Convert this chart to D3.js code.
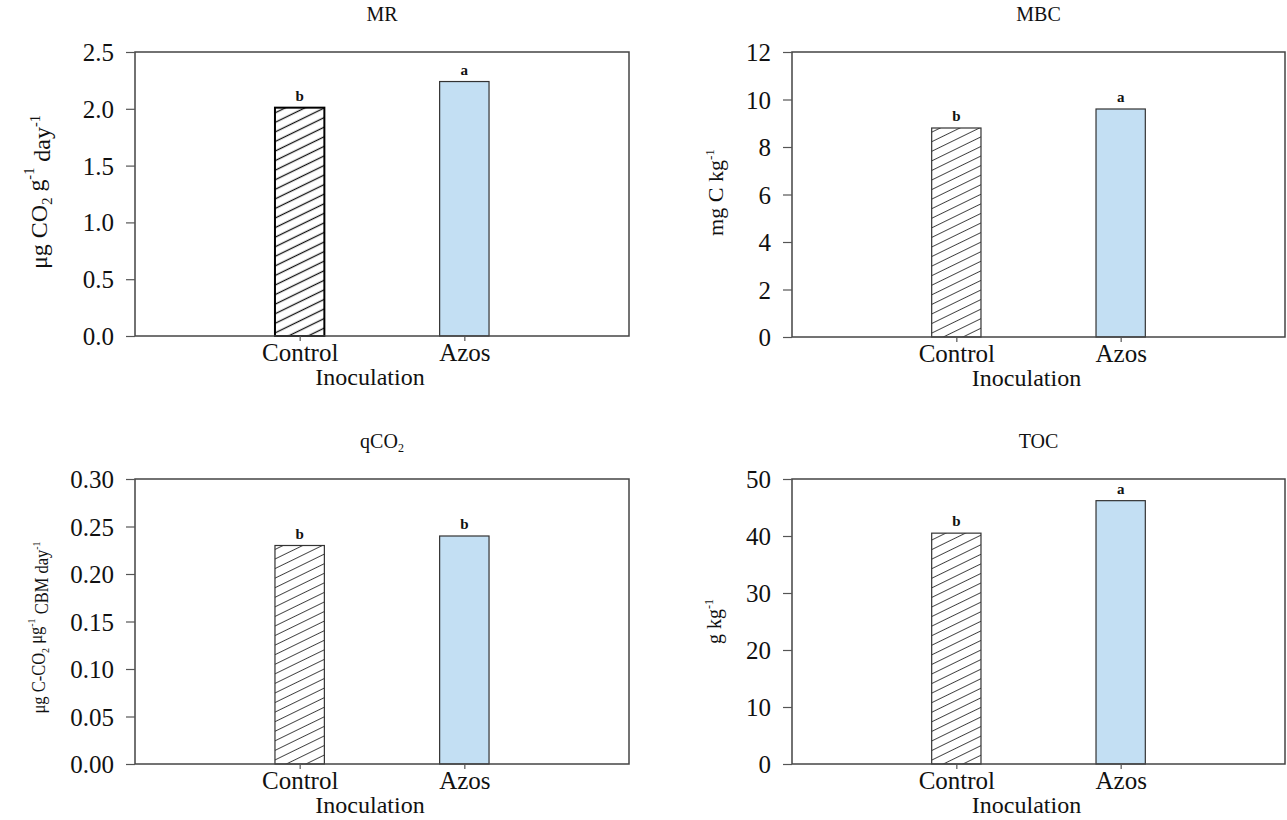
<!DOCTYPE html>
<html>
<head>
<meta charset="utf-8">
<script src="https://cdn.jsdelivr.net/npm/d3@7"></script>
<style>
  body { margin: 0; background: #fff; }
</style>
</head>
<body>
<div id="chart"></div>
<script>
// data
var categories = ["Control", "Azos"];

var mrValues = [2.01, 2.24];
var mrLetters = ["b", "a"];
var mrTicks = [0, 0.5, 1.0, 1.5, 2.0, 2.5];

var mbcValues = [8.8, 9.6];
var mbcLetters = ["b", "a"];
var mbcTicks = [0, 2, 4, 6, 8, 10, 12];

var qco2Values = [0.23, 0.24];
var qco2Letters = ["b", "b"];
var qco2Ticks = [0, 0.05, 0.10, 0.15, 0.20, 0.25, 0.30];

var tocValues = [40.5, 46.2];
var tocLetters = ["b", "a"];
var tocTicks = [0, 10, 20, 30, 40, 50];

var serif = '"Liberation Serif", "Times New Roman", Times, serif';

var svg = d3.select('#chart').append('svg')
    .attr('width', 1287)
    .attr('height', 820)
    .style('font-family', serif);

// hatch patterns (dark one for MR, lighter for the others)
var defs = svg.append('defs');
function hatch(id, color, sw) {
    var p = defs.append('pattern')
        .attr('id', id)
        .attr('patternUnits', 'userSpaceOnUse')
        .attr('width', 12)
        .attr('height', 8.6)
        .attr('patternTransform', 'rotate(-26)');
    p.append('rect').attr('width', 12).attr('height', 8.6).attr('fill', '#fff');
    p.append('line')
        .attr('x1', -1).attr('x2', 13)
        .attr('y1', 4.3).attr('y2', 4.3)
        .attr('stroke', color).attr('stroke-width', sw);
}
hatch('hatchDark', '#111', 1.3);
hatch('hatchLight', '#333', 0.9);

var panels = [
    {title: 'MR', values: mrValues, letters: mrLetters, ticks: mrTicks, fmt: d3.format('.1f'),
     l: 135, t: 52, w: 494, h: 284, hatch: 'hatchDark', ctrlStroke: '#000', ctrlSw: 2, labX: 40, yLabel: 'mr'},
    {title: 'MBC', values: mbcValues, letters: mbcLetters, ticks: mbcTicks, fmt: d3.format('d'),
     l: 792, t: 52, w: 493, h: 285, hatch: 'hatchLight', ctrlStroke: '#333', ctrlSw: 1.2, labX: 716, yLabel: 'mbc'},
    {title: 'qCO2', values: qco2Values, letters: qco2Letters, ticks: qco2Ticks, fmt: d3.format('.2f'),
     l: 135, t: 479, w: 494, h: 285, hatch: 'hatchLight', ctrlStroke: '#333', ctrlSw: 1.2, labX: 40, yLabel: 'qco2'},
    {title: 'TOC', values: tocValues, letters: tocLetters, ticks: tocTicks, fmt: d3.format('d'),
     l: 792, t: 479, w: 493, h: 285, hatch: 'hatchLight', ctrlStroke: '#333', ctrlSw: 1.2, labX: 716, yLabel: 'toc'}
];

panels.forEach(function(p) {
    var g = svg.append('g').attr('transform', 'translate(' + p.l + ',' + p.t + ')');

    var x = d3.scalePoint().domain(categories).range([0, p.w]).padding(1);
    var y = d3.scaleLinear().domain([p.ticks[0], p.ticks[p.ticks.length - 1]]).range([p.h, 0]);
    var barW = p.w * 0.1;

    // bars
    g.selectAll('.bar')
        .data(p.values)
        .enter()
        .append('rect')
        .attr('class', 'bar')
        .attr('x', function(d, i) { return x(categories[i]) - barW / 2; })
        .attr('y', function(d) { return y(d); })
        .attr('width', barW)
        .attr('height', function(d) { return p.h - y(d); })
        .attr('fill', function(d, i) { return i === 0 ? 'url(#' + p.hatch + ')' : '#c3dff3'; })
        .attr('stroke', function(d, i) { return i === 0 ? p.ctrlStroke : '#333'; })
        .attr('stroke-width', function(d, i) { return i === 0 ? p.ctrlSw : 1.2; });

    // significance letters
    g.selectAll('.letter')
        .data(p.values)
        .enter()
        .append('text')
        .attr('class', 'letter')
        .attr('x', function(d, i) { return x(categories[i]); })
        .attr('y', function(d) { return y(d) - 7; })
        .attr('text-anchor', 'middle')
        .style('font-family', serif)
        .style('font-size', '15px')
        .style('font-weight', 'bold')
        .attr('fill', '#111')
        .text(function(d, i) { return p.letters[i]; });

    // frame
    g.append('rect')
        .attr('width', p.w).attr('height', p.h)
        .attr('fill', 'none')
        .attr('stroke', '#444')
        .attr('stroke-width', 1.5);

    // axes
    var axisY = d3.axisLeft(y).tickValues(p.ticks).tickFormat(p.fmt).tickSize(9).tickSizeOuter(0).tickPadding(12);
    var axisX = d3.axisBottom(x).tickSize(5).tickSizeOuter(0).tickPadding(2);

    var ay = g.append('g').attr('class', 'axis').call(axisY).attr('font-family', serif);
    ay.select('.domain').remove();
    ay.selectAll('line').attr('stroke', '#555').attr('stroke-width', 1.2);
    ay.selectAll('text').style('font-family', serif).style('font-size', '25px').attr('fill', '#111').attr('dy', '0.34em');

    var ax = g.append('g').attr('class', 'axis').attr('transform', 'translate(0,' + p.h + ')').call(axisX).attr('font-family', serif);
    ax.select('.domain').remove();
    ax.selectAll('line').attr('stroke', '#555').attr('stroke-width', 1.2);
    ax.selectAll('text').style('font-family', serif).style('font-size', '25px').attr('fill', '#111').attr('dy', '0.72em');

    g.append('text')
        .attr('x', p.w / 2 - 12)
        .attr('y', p.h + 49)
        .attr('text-anchor', 'middle')
        .style('font-family', serif)
        .style('font-size', '24px')
        .attr('fill', '#111')
        .text('Inoculation');

    // title
    var title = g.append('text')
        .attr('x', p.w / 2)
        .attr('y', -31)
        .attr('text-anchor', 'middle')
        .style('font-family', serif)
        .style('font-size', '20px')
        .attr('fill', '#111');
    if (p.title === 'qCO2') {
        title.append('tspan').text('qCO');
        title.append('tspan').attr('font-size', '12px').attr('dy', 4).text('2');
    } else {
        title.text(p.title);
    }

    // y label
    var cy = p.t + p.h / 2;
    var lab = svg.append('text')
        .attr('text-anchor', 'middle')
        .style('font-family', serif)
        .attr('fill', '#111');
    function sup(sel, txt) { sel.append('tspan').attr('font-size', '0.6em').attr('dy', '-0.7em').text(txt); }
    function sub(sel, txt) { sel.append('tspan').attr('font-size', '0.6em').attr('dy', '0.35em').text(txt); }
    function base(sel, txt, dy) { sel.append('tspan').attr('dy', dy || 0).text(txt); }
    if (p.yLabel === 'mr') {
        lab.style('font-size', '24px');
        base(lab, 'μg CO');
        sub(lab, '2');
        base(lab, ' g', '-0.35em');
        sup(lab, '-1');
        base(lab, ' day', '0.7em');
        sup(lab, '-1');
        lab.attr('transform', 'translate(' + (p.labX + 7) + ',' + (cy - 2) + ') rotate(-90)');
    } else if (p.yLabel === 'mbc') {
        lab.style('font-size', '22px');
        base(lab, 'mg C kg');
        sup(lab, '-1');
        lab.attr('transform', 'translate(' + (p.labX + 7) + ',' + (cy - 2) + ') rotate(-90)');
    } else if (p.yLabel === 'qco2') {
        lab.style('font-size', '18px').attr('textLength', 172).attr('lengthAdjust', 'spacingAndGlyphs');
        base(lab, 'μg C-CO');
        sub(lab, '2');
        base(lab, ' μg', '-0.35em');
        sup(lab, '-1');
        base(lab, ' CBM day', '0.7em');
        sup(lab, '-1');
        lab.attr('transform', 'translate(' + (p.labX + 5) + ',' + (cy + 6) + ') rotate(-90)');
    } else {
        lab.style('font-size', '20px');
        base(lab, 'g kg');
        sup(lab, '-1');
        lab.attr('transform', 'translate(' + (p.labX + 5) + ',' + (cy) + ') rotate(-90)');
    }
});
</script>
</body>
</html>
